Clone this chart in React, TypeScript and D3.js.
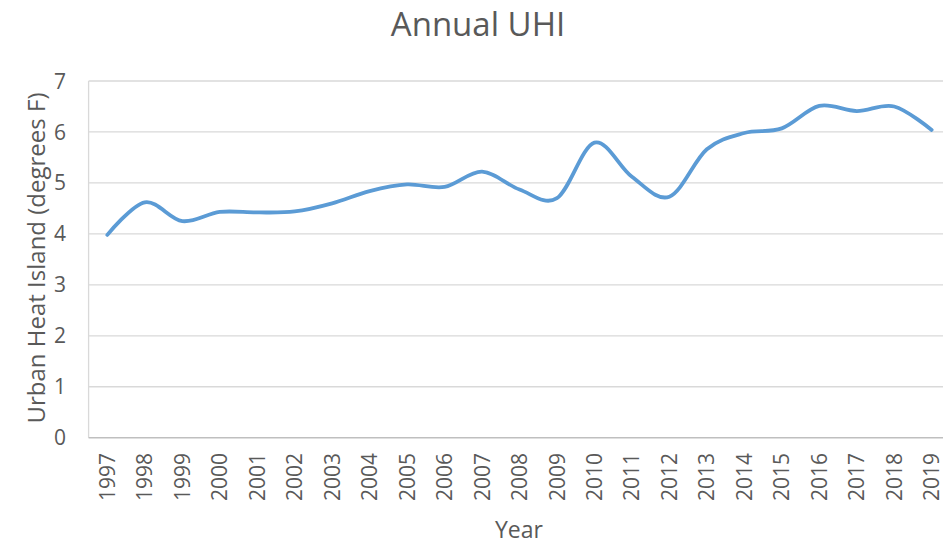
import React, { useEffect, useRef } from 'react';
import * as d3 from 'd3';

const years = ['1997', '1998', '1999', '2000', '2001', '2002', '2003', '2004', '2005', '2006', '2007', '2008',
  '2009', '2010', '2011', '2012', '2013', '2014', '2015', '2016', '2017', '2018', '2019'];
const uhi = [3.98, 4.62, 4.25, 4.43, 4.42, 4.44, 4.6, 4.84, 4.97, 4.92, 5.22, 4.87,
  4.7, 5.79, 5.12, 4.73, 5.66, 5.98, 6.07, 6.51, 6.41, 6.5, 6.04];
const yTicks = [0, 1, 2, 3, 4, 5, 6, 7];

const chartTitle = 'Annual UHI';
const xTitle = 'Year';
const yTitle = 'Urban Heat Island (degrees F)';

export default function App() {
  const ref = useRef<SVGSVGElement>(null);

  const W = 943;
  const H = 545;
  const margin = { top: 81, left: 88.6, bottom: H - 437.7 };
  const plotRight = 88.6 + 23 * 37.47;

  useEffect(() => {
    const svg = d3.select(ref.current);
    svg.selectAll('*').remove();

    const font = "'Open Sans', sans-serif";
    const grey = '#595959';

    const x = d3.scaleBand()
      .domain(years)
      .range([margin.left, plotRight]);
    const y = d3.scaleLinear()
      .domain([0, 7])
      .range([H - margin.bottom, margin.top]);

    // gridlines
    svg.append('g')
      .selectAll('line')
      .data(yTicks.slice(1))
      .join('line')
        .attr('x1', margin.left)
        .attr('x2', plotRight)
        .attr('y1', d => y(d))
        .attr('y2', d => y(d))
        .attr('stroke', '#d9d9d9')
        .attr('stroke-width', 1.3);

    // left axis line
    svg.append('line')
      .attr('x1', margin.left).attr('x2', margin.left)
      .attr('y1', y(7)).attr('y2', y(0))
      .attr('stroke', '#d9d9d9')
      .attr('stroke-width', 1.3);

    // bottom axis line
    svg.append('line')
      .attr('x1', margin.left).attr('x2', plotRight)
      .attr('y1', y(0)).attr('y2', y(0))
      .attr('stroke', '#bfbfbf')
      .attr('stroke-width', 1.5);

    // y tick labels
    svg.append('g')
      .selectAll('text')
      .data(yTicks)
      .join('text')
        .attr('x', 66)
        .attr('y', d => y(d))
        .attr('dy', '0.36em')
        .attr('text-anchor', 'end')
        .attr('font-family', font)
        .attr('font-size', 21)
        .attr('fill', grey)
        .text(d => d);

    // x tick labels
    svg.append('g')
      .selectAll('text')
      .data(years)
      .join('text')
        .attr('transform', d => `translate(${x(d)! + x.bandwidth() / 2},453)rotate(-90)`)
        .attr('dy', '0.36em')
        .attr('text-anchor', 'end')
        .attr('font-family', font)
        .attr('font-size', 21)
        .attr('fill', grey)
        .text(d => d);

    // smoothed line
    const line = d3.line<number>()
      .x((_, i) => x(years[i])! + x.bandwidth() / 2)
      .y(d => y(d))
      .curve(d3.curveCardinal.tension(0));

    svg.append('path')
      .datum(uhi)
      .attr('d', line)
      .attr('fill', 'none')
      .attr('stroke', '#5b9bd5')
      .attr('stroke-width', 3.8)
      .attr('stroke-linecap', 'round')
      .attr('stroke-linejoin', 'round');

    // titles
    svg.append('text')
      .attr('x', 478)
      .attr('y', 36)
      .attr('text-anchor', 'middle')
      .attr('font-family', font)
      .attr('font-size', 33)
      .attr('fill', grey)
      .text(chartTitle);

    svg.append('text')
      .attr('x', 519)
      .attr('y', 538)
      .attr('text-anchor', 'middle')
      .attr('font-family', font)
      .attr('font-size', 23)
      .attr('fill', grey)
      .text(xTitle);

    svg.append('text')
      .attr('transform', 'translate(36,258)rotate(-90)')
      .attr('dy', '0.36em')
      .attr('text-anchor', 'middle')
      .attr('font-family', font)
      .attr('font-size', 24)
      .attr('fill', grey)
      .text(yTitle);
  }, []);

  return (
    <svg ref={ref} width={W} height={H}
      style={{ position: 'absolute', left: 0, top: 0, background: '#fff' }} />
  );
}
